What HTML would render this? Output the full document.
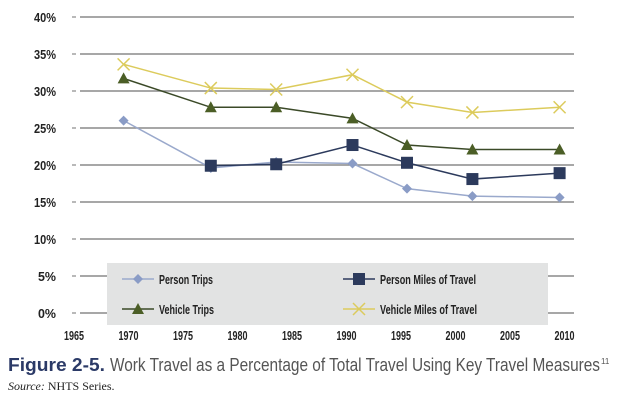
<!DOCTYPE html>
<html><head><meta charset="utf-8"><style>
body{margin:0;background:#fff;width:620px;height:402px;overflow:hidden;font-family:"Liberation Sans",sans-serif}
.t{font-family:"Liberation Sans Narrow","Liberation Sans",sans-serif;font-weight:bold;fill:#222}
</style></head><body>
<svg id="c" width="620" height="402">
<g id="grid"></g><g id="series"></g><g id="legend"></g>
<g>
<text x="8" y="371" font-size="18" font-weight="bold" fill="#2b3a67" textLength="97" lengthAdjust="spacingAndGlyphs">Figure 2-5.</text>
<text x="110" y="371" font-size="18" fill="#555" textLength="490" lengthAdjust="spacingAndGlyphs">Work Travel as a Percentage of Total Travel Using Key Travel Measures</text>
<text x="601" y="364" font-size="8" fill="#555">11</text>
</g>
<text x="8" y="390" font-size="12" font-family="Liberation Serif,serif" fill="#222"><tspan font-style="italic">Source:</tspan> NHTS Series.</text>
</svg>
<script>
const years=[1969,1977,1983,1990,1995,2001,2009];
const personTrips=[26.0,19.6,20.4,20.2,16.8,15.8,15.6];
const personMiles=[null,19.9,20.1,22.7,20.3,18.1,18.9];
const vehicleTrips=[31.7,27.8,27.8,26.3,22.7,22.1,22.1];
const vehicleMiles=[33.6,30.4,30.2,32.2,28.5,27.1,27.8];
const yTicks=[0,5,10,15,20,25,30,35,40];
const xTicks=[1965,1970,1975,1980,1985,1990,1995,2000,2005,2010];
const NS='http://www.w3.org/2000/svg';
const X=y=>80+(y-1965)*10.9;
const Y=v=>313-v*7.4;
function mk(t,a,p){const e=document.createElementNS(NS,t);for(const k in a)e.setAttribute(k,a[k]);p.appendChild(e);return e;}
const grid=document.getElementById('grid');
yTicks.forEach(v=>{
 const l=mk('line',{x1:80,x2:574,y1:Y(v),y2:Y(v),stroke:'#8a8a8a','stroke-width':1.5},grid);
 
 
 mk('line',{x1:72,x2:76,y1:Y(v),y2:Y(v),stroke:'#8a8a8a','stroke-width':1.2},grid);
 const t=mk('text',{x:56,y:Y(v)+5,'font-size':13,'text-anchor':'end',class:'t',textLength:v<10?18:22,lengthAdjust:'spacingAndGlyphs'},grid);
 t.textContent=v+'%';
 
 
});
xTicks.forEach(yr=>{
 const t=mk('text',{x:X(yr)-6,y:340,'font-size':13,'text-anchor':'middle',class:'t',textLength:20,lengthAdjust:'spacingAndGlyphs'},grid);
 t.textContent=yr;
 
 
});
function marker(type,x,y,col,p){
 if(type==='diamond')return mk('path',{d:`M${x} ${y-5}L${x+5} ${y}L${x} ${y+5}L${x-5} ${y}Z`,fill:col},p);
 if(type==='square')return mk('rect',{x:x-6,y:y-6,width:12,height:12,fill:col},p);
 if(type==='tri')return mk('path',{d:`M${x} ${y-6}L${x+6} ${y+5}L${x-6} ${y+5}Z`,fill:col},p);
 return mk('path',{d:`M${x-6} ${y-6}L${x+6} ${y+6}M${x+6} ${y-6}L${x-6} ${y+6}`,stroke:col,'stroke-width':1.5,fill:'none'},p);
}
const defs=[
 ['person-trips',personTrips,'#9aa9cc','#8a9cc6','diamond'],
 ['person-miles',personMiles,'#2c3a5c','#2c3a5c','square'],
 ['vehicle-trips',vehicleTrips,'#3b4a28','#4b5e26','tri'],
 ['vehicle-miles',vehicleMiles,'#dccb5c','#dccb5c','x']];
const sg=document.getElementById('series');
defs.forEach(([n,vals,lc,mc,m])=>{
 const g=mk('g',{},sg);
 
 
 const pts=[];vals.forEach((v,i)=>{if(v!=null)pts.push([X(years[i]),Y(v)]);});
 mk('polyline',{points:pts.map(p=>p.join(',')).join(' '),fill:'none',stroke:lc,'stroke-width':1.5},g);
 pts.forEach(p=>{const e=marker(m,p[0],p[1],mc,g);
  
  });
});
const lg=document.getElementById('legend');
const box=mk('rect',{x:107,y:263,width:441,height:62,fill:'#e2e3e3'},lg);


const labels=['Person Trips','Person Miles of Travel','Vehicle Trips','Vehicle Miles of Travel'];
const lwid=[54,96,55,97];
const lpos=[[122,279],[343,279],[122,309],[343,309]];
defs.forEach(([n,vals,lc,mc,m],i)=>{
 const [x,y]=lpos[i];
 const g=mk('g',{},lg);
 
 
 mk('line',{x1:x,x2:x+32,y1:y,y2:y,stroke:lc,'stroke-width':1.5},g);
 marker(m,x+16,y,mc,g);
 const t=mk('text',{x:x+37,y:y+5,'font-size':13,class:'t',textLength:lwid[i],lengthAdjust:'spacingAndGlyphs'},g);
 t.textContent=labels[i];
});
</script>
</body></html>
